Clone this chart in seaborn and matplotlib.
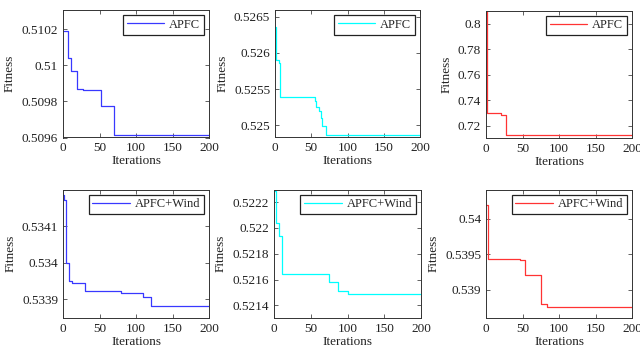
import matplotlib
matplotlib.use("Agg")
import matplotlib.pyplot as plt
import seaborn as sns
import numpy as np
from matplotlib.ticker import FuncFormatter

sns.set_style("ticks")
plt.rcParams['font.family'] = ['Liberation Serif', 'DejaVu Serif']
plt.rcParams['mathtext.fontset'] = 'stix'

# ---- data (step curves: iteration where the value starts, fitness value) ----
it_p1 = [0, 7, 10.5, 19, 27, 52.5, 69.5, 200]
fit_p1 = [0.510193, 0.510039, 0.509967, 0.509869, 0.509864, 0.509777, 0.509615, 0.509615]

it_p2 = [0, 2, 5.5, 7.5, 55, 57, 60, 63, 65, 71, 200]
fit_p2 = [0.526361, 0.525903, 0.525866, 0.525394, 0.525330, 0.525260, 0.525204, 0.525102,
          0.524995, 0.524866, 0.524866]

it_p3 = [0, 1, 20.5, 27, 200]
fit_p3 = [0.83, 0.7304, 0.7286, 0.713, 0.713]

it_p4 = [0, 2, 4.6, 8, 13, 30, 80, 109, 120, 200]
fit_p4 = [0.534185, 0.534171, 0.534000, 0.533949, 0.533945, 0.533921, 0.533917, 0.533905,
          0.533880, 0.533880]

it_p5 = [0, 2.3, 6.4, 11, 75, 87, 100, 200]
fit_p5 = [0.522291, 0.522038, 0.521939, 0.521639, 0.521577, 0.521509, 0.521488, 0.521488]

it_p6 = [0, 3, 46, 54, 75, 83, 200]
fit_p6 = [0.540197, 0.539437, 0.539418, 0.539211, 0.538803, 0.538761, 0.538761]

labels = ["APFC", "APFC", "APFC", "APFC+Wind", "APFC+Wind", "APFC+Wind"]
colors = ["#3838ff", "#00ffff", "#ff3333", "#3838ff", "#00ffff", "#ff3333"]
ylims = [(0.5096, 0.510307), (0.524833, 0.526593), (0.7104, 0.8104),
         (0.533848, 0.534201), (0.521301, 0.522299), (0.538601, 0.540413)]
yticks = [[0.5096, 0.5098, 0.5100, 0.5102],
          [0.5250, 0.5255, 0.5260, 0.5265],
          [0.72, 0.74, 0.76, 0.78, 0.80],
          [0.5339, 0.5340, 0.5341],
          [0.5214, 0.5216, 0.5218, 0.5220, 0.5222],
          [0.5390, 0.5395, 0.5400]]
xticks = [0, 50, 100, 150, 200]

series = [(it_p1, fit_p1), (it_p2, fit_p2), (it_p3, fit_p3),
          (it_p4, fit_p4), (it_p5, fit_p5), (it_p6, fit_p6)]

W, H = 640, 347
fig = plt.figure(figsize=(W / 100, H / 100), dpi=100)

# pixel boxes (left, top, right, bottom)
boxes = [(63, 10, 209, 137.5), (275, 10, 420, 137.5), (486, 10.5, 632, 138),
         (63, 189.5, 209, 318), (274, 189.5, 421, 318), (486, 189.5, 632, 318)]

fmt = FuncFormatter(lambda v, p: "%g" % round(v, 6))

for i, (x, y) in enumerate(series):
    l, t, r, b = boxes[i]
    ax = fig.add_axes([l / W, 1 - b / H, (r - l) / W, (b - t) / H])
    sns.lineplot(x=x, y=y, ax=ax, color=colors[i], drawstyle="steps-post",
                 linewidth=0.9, label=labels[i], estimator=None)
    ax.set_xlim(0, 200)
    ax.set_ylim(*ylims[i])
    ax.set_xticks(xticks)
    ax.set_yticks(yticks[i])
    ax.yaxis.set_major_formatter(fmt)
    ax.tick_params(direction="in", top=True, right=True, length=3, width=0.5,
                   labelsize=9.5, pad=3.5, colors="#222222", labelcolor="#222222")
    for s in ax.spines.values():
        s.set_visible(True)
        s.set_linewidth(0.7)
        s.set_color("#333333")
    ax.set_xlabel("Iterations", fontsize=9.5, labelpad=0.5, color="#222222")
    ax.set_ylabel("Fitness", fontsize=9.5, labelpad=4, color="#222222")
    leg = ax.legend(loc="upper right", fontsize=9, frameon=True, fancybox=False,
                    edgecolor="#222222", framealpha=1, handlelength=3.0,
                    borderaxespad=0.4, borderpad=0.3, handletextpad=0.4)
    leg.get_frame().set_linewidth(0.9)

fig.savefig("out.png", dpi=100)
